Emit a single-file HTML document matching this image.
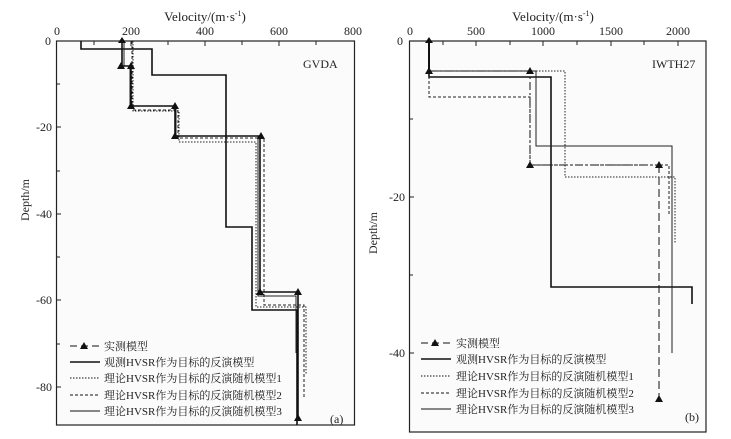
<!DOCTYPE html>
<html><head><meta charset="utf-8"><style>
html,body{margin:0;padding:0;background:#fff;}
svg{display:block;}
text{font-family:"Liberation Serif","Noto Serif CJK SC",serif;fill:#222;}
.cj{font-family:"Liberation Serif","Noto Serif CJK SC","Noto Sans CJK SC",serif;font-size:11px;}
</style></head><body>
<svg width="731" height="439" viewBox="0 0 731 439" xmlns="http://www.w3.org/2000/svg">
<rect x="0" y="0" width="731" height="439" fill="#fff"/>
<rect x="56.5" y="41" width="298" height="384" fill="#fbfbfb" stroke="#222" stroke-width="1.2"/>
<rect x="409.5" y="41" width="296.5" height="391" fill="#fbfbfb" stroke="#222" stroke-width="1.2"/>

<text x="205" y="21" font-size="13" text-anchor="middle">Velocity/(m·s<tspan font-size="8" dy="-5">-1</tspan><tspan dy="5">)</tspan></text>
<g font-size="12" text-anchor="middle">
<text x="57" y="35">0</text><text x="131" y="35">200</text><text x="205" y="35">400</text><text x="279" y="35">600</text><text x="353" y="35">800</text>
</g>
<g font-size="12" text-anchor="end">
<text x="51" y="45">0</text><text x="52" y="131">-20</text><text x="52" y="218">-40</text><text x="52" y="304">-60</text><text x="52" y="391">-80</text>
</g>
<text transform="translate(29,200) rotate(-90)" font-size="12" text-anchor="middle">Depth/m</text>
<g stroke="#222" stroke-width="1">
<path d="M94 41v4M131 41v5M168 41v4M205 41v5M242 41v4M279 41v5M316 41v4"/>
<path d="M56 84h4M56 127h5M56 171h4M56 214h5M56 257h4M56 300h5M56 344h4M56 387h5"/>
</g>
<text x="303" y="68" font-size="12">GVDA</text>
<text x="330" y="423" font-size="12">(a)</text>

<g fill="none">
<path d="M81 41V49H152V75H226V227H252V310H297V425" stroke="#111" stroke-width="1.6"/>
<path d="M133 41V111H179V142H256V307H306V375" stroke="#222" stroke-width="1" stroke-dasharray="1.5,1.5"/>
<path d="M132 41V110H178V138H264V305H304V397" stroke="#222" stroke-width="1" stroke-dasharray="3,2"/>
<path d="M124 41V66H130V106H176V136H258V296H296V353" stroke="#222" stroke-width="1"/>
<path d="M122 41V66H131V106H175V136H260V292H298V418" stroke="#111" stroke-width="1.6"/>
</g>
<g fill="#111">
<path d="M122 37l-4 6h8z"/>
<path d="M121 62l-4 7h8zM131 62l-4 7h8zM131 102l-4 7h8zM175 102l-4 7h8zM175 132l-4 7h8zM261 132l-4 7h8zM260 288l-4 7h8zM298 288l-4 7h8zM298 414l-4 7h8z"/>
</g>
<g stroke="#111" fill="none">
<path d="M70 346h30" stroke-dasharray="7,4" stroke-width="1"/>
<path d="M70 362h30" stroke-width="1.6"/>
<path d="M70 378h30" stroke-dasharray="1.5,1.5"/>
<path d="M70 395h30" stroke-dasharray="3,2"/>
<path d="M70 411h30"/>
</g>
<path d="M84 342l-4 7h8z" fill="#111"/>
<g class="cj">
<text x="104" y="350">实测模型</text>
<text x="104" y="366">观测HVSR作为目标的反演模型</text>
<text x="104" y="382">理论HVSR作为目标的反演随机模型1</text>
<text x="104" y="399">理论HVSR作为目标的反演随机模型2</text>
<text x="104" y="415">理论HVSR作为目标的反演随机模型3</text>
</g>

<text x="553" y="21" font-size="13" text-anchor="middle">Velocity/(m·s<tspan font-size="8" dy="-5">-1</tspan><tspan dy="5">)</tspan></text>
<g font-size="12" text-anchor="middle">
<text x="410" y="35">0</text><text x="476" y="35">500</text><text x="543" y="35">1000</text><text x="611" y="35">1500</text><text x="678" y="35">2000</text>
</g>
<g font-size="12" text-anchor="end">
<text x="403" y="45">0</text><text x="405" y="201">-20</text><text x="405" y="357">-40</text>
</g>
<text transform="translate(377,233) rotate(-90)" font-size="12" text-anchor="middle">Depth/m</text>
<g stroke="#222" stroke-width="1">
<path d="M443 41v4M476 41v5M510 41v4M543 41v5M577 41v4M611 41v5M644 41v4M678 41v5"/>
<path d="M409 119h4M409 197h5M409 275h4M409 353h5"/>
</g>
<text x="652" y="68" font-size="12">IWTH27</text>
<text x="685" y="421" font-size="12">(b)</text>

<g fill="none">
<path d="M429 41V77H551V287H692V304" stroke="#111" stroke-width="1.6"/>
<path d="M429 71H536V146H672V353" stroke="#222" stroke-width="1"/>
<path d="M530 71H565V177H675V243" stroke="#222" stroke-width="1" stroke-dasharray="1.5,1.5"/>
<path d="M429 71V97H530V165H669V215" stroke="#222" stroke-width="1" stroke-dasharray="3,2"/>
<path d="M429 71H530V165H659" stroke="#111" stroke-width="1" stroke-dasharray="8,3,2,3"/>
<path d="M659 165V399" stroke="#111" stroke-width="1" stroke-dasharray="8,4"/>
<path d="M429 41V71" stroke="#111" stroke-width="2"/>
</g>
<g fill="#111">
<path d="M429 37l-4 6h8zM429 67l-4 7h8zM530 67l-4 7h8zM530 161l-4 7h8zM659 161l-4 7h8zM659 395l-4 7h8z"/>
</g>
<g stroke="#111" fill="none">
<path d="M421 343h30" stroke-dasharray="7,4" stroke-width="1"/>
<path d="M421 359h30" stroke-width="1.6"/>
<path d="M421 376h30" stroke-dasharray="1.5,1.5"/>
<path d="M421 393h30" stroke-dasharray="3,2"/>
<path d="M421 409h30"/>
</g>
<path d="M435 339l-4 7h8z" fill="#111"/>
<g class="cj">
<text x="456" y="347">实测模型</text>
<text x="456" y="363">观测HVSR作为目标的反演模型</text>
<text x="456" y="380">理论HVSR作为目标的反演随机模型1</text>
<text x="456" y="397">理论HVSR作为目标的反演随机模型2</text>
<text x="456" y="413">理论HVSR作为目标的反演随机模型3</text>
</g>
</svg>
</body></html>
